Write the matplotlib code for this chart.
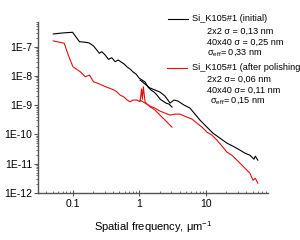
import matplotlib
matplotlib.use("Agg")
import matplotlib.pyplot as plt
import matplotlib.ticker as ticker
import numpy as np

# initial surface, 40x40 scan (low frequencies)
f_init_1 = [0.0507, 0.0692, 0.0987, 0.1256, 0.153, 0.175, 0.204, 0.250, 0.272, 0.305,
            0.342, 0.384, 0.431, 0.478, 0.530, 0.588, 0.652, 0.723, 0.802, 0.889,
            0.986, 1.094, 1.213, 1.345, 1.492, 1.655, 1.835, 2.036, 2.258, 2.505,
            2.778, 3.08]
psd_init_1 = [2.72e-7, 2.94e-7, 3.11e-7, 1.48e-7, 1.42e-7, 1.34e-7, 1.06e-7, 5.94e-8, 6.74e-8, 5.20e-8,
              3.70e-8, 4.20e-8, 3.06e-8, 3.51e-8, 2.99e-8, 2.56e-8, 2.02e-8, 1.72e-8, 1.36e-8, 1.16e-8,
              8.47e-9, 7.24e-9, 6.18e-9, 4.17e-9, 3.29e-9, 2.81e-9, 2.22e-9, 1.62e-9, 1.38e-9, 1.18e-9,
              1.09e-9, 8.61e-10]

# initial surface, 2x2 scan (high frequencies)
f_init_2 = [1.021, 1.213, 1.442, 1.713, 2.036, 2.42, 2.88, 3.30, 3.79, 4.67,
            5.74, 6.82, 8.11, 9.98, 12.7, 16.2, 20.6, 25.4, 32.4, 38.5,
            45.7, 52.5, 55.0, 60.0]
psd_init_2 = [7.24e-9, 5.28e-9, 3.86e-9, 3.29e-9, 2.81e-9, 2.05e-9, 1.18e-9, 1.50e-9, 1.38e-9, 1.01e-9,
              7.95e-10, 4.96e-10, 3.09e-10, 1.92e-10, 1.11e-10, 7.47e-11, 5.04e-11, 3.97e-11, 2.90e-11, 2.29e-11,
              1.95e-11, 1.43e-11, 1.81e-11, 1.32e-11]

# after polishing, 40x40 scan
f_pol_1 = [0.0507, 0.0602, 0.0741, 0.0851, 0.100, 0.112, 0.129, 0.153, 0.177, 0.204,
           0.231, 0.256, 0.294, 0.327, 0.362, 0.416, 0.461, 0.512, 0.588, 0.652,
           0.723, 0.802, 0.912, 1.021, 1.075, 1.105, 1.143, 1.213, 1.300, 1.442,
           1.713, 2.036, 2.42, 2.88, 3.08]
psd_pol_1 = [1.57e-7, 1.45e-7, 1.31e-7, 5.20e-8, 2.07e-8, 1.72e-8, 1.39e-8, 9.4e-9, 1.07e-8, 6.33e-9,
             5.71e-9, 5.15e-9, 4.51e-9, 4.07e-9, 3.76e-9, 3.29e-9, 2.81e-9, 2.22e-9, 1.89e-9, 1.50e-9,
             1.31e-9, 1.50e-9, 1.50e-9, 1.31e-9, 3.6e-9, 1.6e-9, 4.27e-9, 1.31e-9, 1.09e-9, 8.81e-10,
             6.79e-10, 4.58e-10, 3.09e-10, 2.08e-10, 1.78e-10]

# after polishing, 2x2 scan
f_pol_2 = [1.021, 1.213, 1.442, 1.713, 2.036, 2.42, 2.88, 3.42, 4.06, 5.18,
           6.15, 7.31, 8.69, 10.3, 12.3, 14.6, 17.4, 20.6, 24.5, 29.2,
           34.7, 41.2, 45.7, 50.7, 55.0, 60.0]
psd_pol_2 = [1.50e-9, 1.18e-9, 9.3e-10, 7.95e-10, 6.28e-10, 5.36e-10, 4.58e-10, 4.96e-10, 4.96e-10, 3.91e-10,
             3.34e-10, 2.44e-10, 1.78e-10, 1.20e-10, 9.46e-11, 6.38e-11, 3.97e-11, 2.48e-11, 1.95e-11, 1.32e-11,
             8.9e-12, 5.99e-12, 4.73e-12, 2.72e-12, 3.19e-12, 2.15e-12]

legend_init = ["Si_K105#1 (initial)", "2x2 \u03c3 = 0,13 nm", "40x40 \u03c3 = 0,25 nm",
               "\u03c3$_\\mathregular{eff}$= 0,33 nm"]
legend_pol = ["Si_K105#1 (after polishing", "2x2 \u03c3= 0,06 nm", "40x40 \u03c3= 0,11 nm",
              "\u03c3$_\\mathregular{eff}$= 0,15 nm"]

red = "#e01010"

plt.rcParams['font.family'] = ['Liberation Sans', 'DejaVu Sans']

fig = plt.figure(figsize=(3.0, 2.4), dpi=100)
ax = fig.add_axes([0.127, 0.196, 0.766, 0.714])

ax.plot(f_init_1, psd_init_1, color="black", lw=0.8)
ax.plot(f_init_2, psd_init_2, color="black", lw=0.8)
ax.plot(f_pol_1, psd_pol_1, color=red, lw=0.8)
ax.plot(f_pol_2, psd_pol_2, color=red, lw=0.8)

ax.set_xscale("log")
ax.set_yscale("log")
ax.set_xlim(0.030, 85)
ax.set_ylim(1e-12, 7.2e-7)

ax.yaxis.set_major_locator(ticker.LogLocator(base=10, numticks=10))
ax.yaxis.set_major_formatter(ticker.FuncFormatter(lambda v, p: "1E%d" % round(np.log10(v))))
ax.xaxis.set_major_formatter(ticker.FuncFormatter(lambda v, p: "%g" % v))
ax.xaxis.set_minor_formatter(ticker.NullFormatter())
ax.yaxis.set_minor_locator(ticker.LogLocator(base=10, subs=np.arange(2, 10), numticks=20))

for s in ["top", "right"]:
    ax.spines[s].set_visible(False)
for s in ["left", "bottom"]:
    ax.spines[s].set_color("#555555")
    ax.spines[s].set_linewidth(1.0)

ax.tick_params(axis="y", which="major", direction="out", length=3, width=0.8, color="#555555", labelsize=7.5, pad=1)
ax.tick_params(axis="y", which="minor", direction="out", length=1.5, width=0.6, color="#555555")
ax.tick_params(axis="x", which="major", direction="inout", length=4, width=0.8, color="#555555", labelsize=7.5, pad=2)
ax.tick_params(axis="x", which="minor", direction="in", length=1.5, width=0.6, color="#555555")

ax.set_xlabel("Spatial frequency, \u03bcm$^\\mathregular{-1}$", fontsize=8, labelpad=8)

# legend block
fs = 6.6
rows_y = [1.016, 0.942, 0.880, 0.819]
ax.plot([0.565, 0.652], [rows_y[0], rows_y[0]], color="black", lw=0.8, transform=ax.transAxes, clip_on=False)
ax.text(0.67, rows_y[0], legend_init[0], fontsize=fs, va="center", transform=ax.transAxes)
for t, yy in zip(legend_init[1:], rows_y[1:]):
    ax.text(0.735, yy, t, fontsize=fs, va="center", transform=ax.transAxes)

rows_y2 = [0.731, 0.664, 0.601, 0.539]
ax.plot([0.561, 0.648], [rows_y2[0], rows_y2[0]], color=red, lw=0.8, transform=ax.transAxes, clip_on=False)
ax.text(0.67, rows_y2[0], legend_pol[0], fontsize=fs, va="center", transform=ax.transAxes)
xs2 = [0.735, 0.735, 0.748]
for t, yy, xx in zip(legend_pol[1:], rows_y2[1:], xs2):
    ax.text(xx, yy, t, fontsize=fs, va="center", transform=ax.transAxes)

fig.savefig("out.png", dpi=100)
